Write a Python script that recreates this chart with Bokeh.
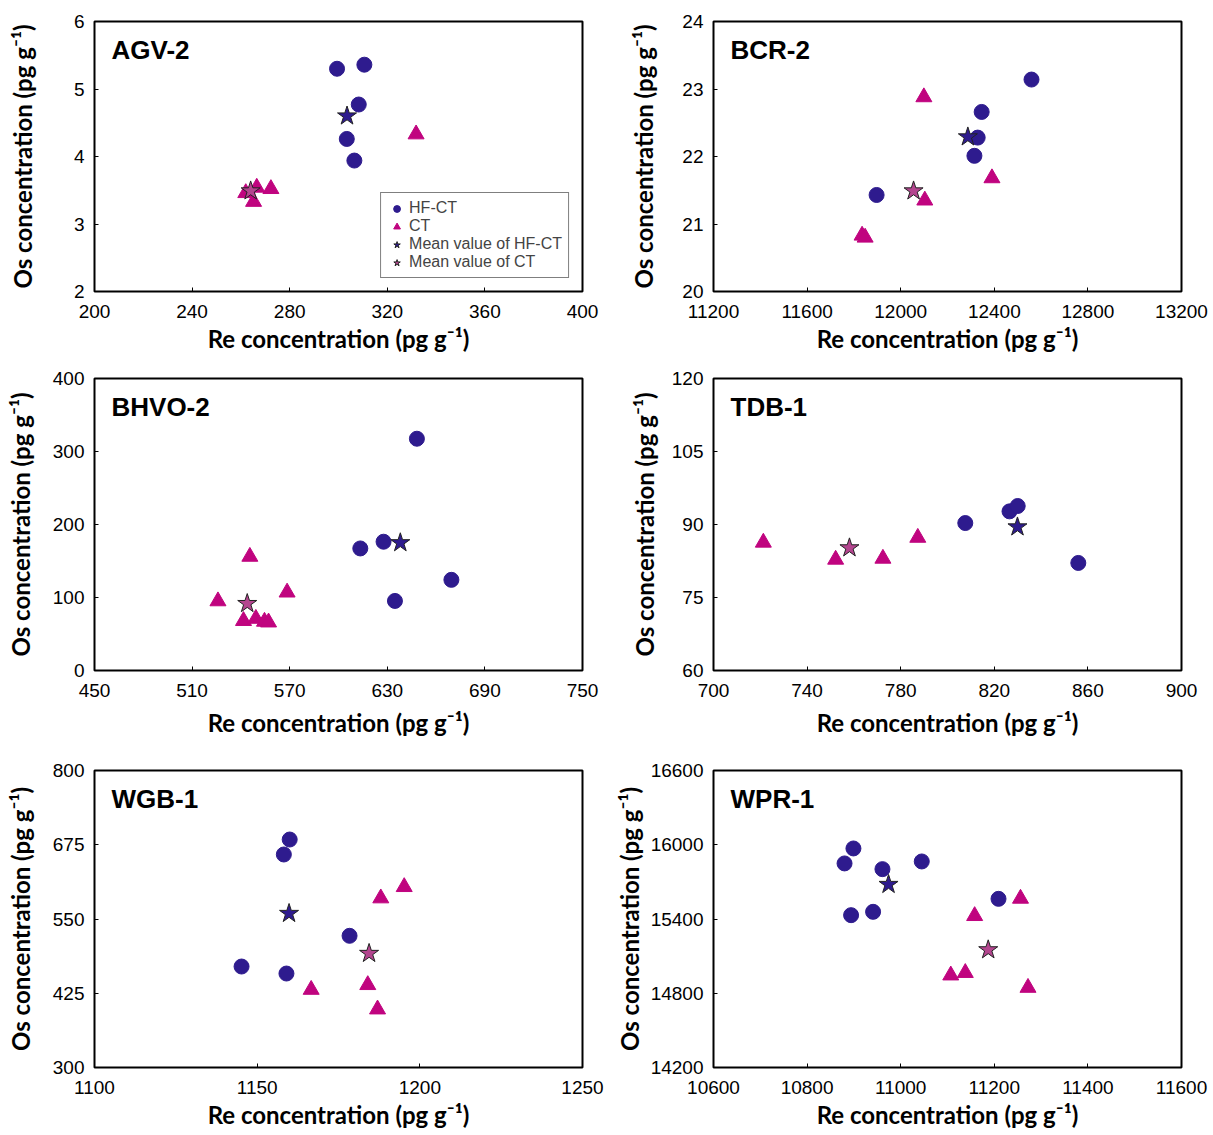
from bokeh.plotting import figure
from bokeh.models import Range1d, FixedTicker, Label, Legend, LegendItem
from bokeh.layouts import column, row
from bokeh.embed import file_html
from bokeh.resources import INLINE

# ---------------- data ----------------
# AGV-2
agv_hf_re = [299.4, 310.6, 308.3, 303.4, 306.5]
agv_hf_os = [5.30, 5.36, 4.77, 4.26, 3.94]
agv_ct_re = [331.8, 272.3, 266.5, 262.0, 265.2]
agv_ct_os = [4.33, 3.52, 3.54, 3.46, 3.33]
agv_hfmean_re = [303.5]
agv_hfmean_os = [4.60]
agv_ctmean_re = [264.0]
agv_ctmean_os = [3.49]
agv_xticks = [200, 240, 280, 320, 360, 400]
agv_yticks = [2, 3, 4, 5, 6]

# BCR-2
bcr_hf_re = [12559, 12346, 12329, 12315, 11897]
bcr_hf_os = [23.14, 22.66, 22.28, 22.01, 21.43]
bcr_ct_re = [12099, 12390, 12103, 11835, 11848]
bcr_ct_os = [22.88, 21.68, 21.35, 20.83, 20.80]
bcr_hfmean_re = [12287]
bcr_hfmean_os = [22.29]
bcr_ctmean_re = [12055]
bcr_ctmean_os = [21.49]
bcr_xticks = [11200, 11600, 12000, 12400, 12800, 13200]
bcr_yticks = [20, 21, 22, 23, 24]

# BHVO-2
bhvo_hf_re = [648.2, 627.7, 613.4, 669.4, 634.7]
bhvo_hf_os = [317.5, 176.4, 167.2, 124.2, 95.3]
bhvo_ct_re = [545.5, 568.4, 525.9, 541.6, 549.2, 554.5, 557.0]
bhvo_ct_os = [156, 107, 95, 68, 71, 67, 66]
bhvo_hfmean_re = [638.0]
bhvo_hfmean_os = [175.0]
bhvo_ctmean_re = [543.9]
bhvo_ctmean_os = [91.7]
bhvo_xticks = [450, 510, 570, 630, 690, 750]
bhvo_yticks = [0, 100, 200, 300, 400]

# TDB-1
tdb_hf_re = [807.6, 826.5, 830.0, 855.9]
tdb_hf_os = [90.3, 92.7, 93.8, 82.1]
tdb_ct_re = [721.3, 752.2, 772.4, 787.3]
tdb_ct_os = [86.3, 82.8, 83.0, 87.3]
tdb_hfmean_re = [829.9]
tdb_hfmean_os = [89.5]
tdb_ctmean_re = [758.1]
tdb_ctmean_os = [85.2]
tdb_xticks = [700, 740, 780, 820, 860, 900]
tdb_yticks = [60, 75, 90, 105, 120]

# WGB-1
wgb_hf_re = [1160.0, 1158.2, 1178.4, 1145.2, 1159.0]
wgb_hf_os = [683.8, 658.6, 521.7, 470.0, 458.2]
wgb_ct_re = [1195.2, 1188.0, 1184.0, 1166.6, 1187.0]
wgb_ct_os = [604, 585, 439, 431, 398]
wgb_hfmean_re = [1159.8]
wgb_hfmean_os = [559.3]
wgb_ctmean_re = [1184.4]
wgb_ctmean_os = [492.0]
wgb_xticks = [1100, 1150, 1200, 1250]
wgb_yticks = [300, 425, 550, 675, 800]

# WPR-1
wpr_hf_re = [10899, 10880, 10961, 11045, 11209, 10894, 10941]
wpr_hf_os = [15970, 15849, 15803, 15865, 15563, 15431, 15458]
wpr_ct_re = [11256, 11158, 11107, 11138, 11272]
wpr_ct_os = [15565, 15425, 14945, 14965, 14845]
wpr_hfmean_re = [10974]
wpr_hfmean_os = [15679]
wpr_ctmean_re = [11187]
wpr_ctmean_os = [15151]
wpr_xticks = [10600, 10800, 11000, 11200, 11400, 11600]
wpr_yticks = [14200, 14800, 15400, 16000, 16600]

# ---------------- styling ----------------
HF_COLOR = "#2e1b8e"
CT_COLOR = "#c0047f"
HF_STAR = "#2e1b8e"
CT_STAR = "#b4458f"
TICK_FONT = "Liberation Sans"
LABEL_FONT = "Lato"


def make_panel(name, hf_re, hf_os, ct_re, ct_os, hfm_re, hfm_os, ctm_re, ctm_os,
               xticks, yticks, fw, fh, bl, br, bt, bb, ylab_standoff,
               xlab_standoff=3, legend=False):
    p = figure(frame_width=fw, frame_height=fh,
               min_border_left=bl, min_border_right=br,
               min_border_top=bt, min_border_bottom=bb,
               x_range=Range1d(xticks[0], xticks[-1]),
               y_range=Range1d(yticks[0], yticks[-1]),
               output_backend="svg", toolbar_location=None, tools="")
    p.xgrid.visible = False
    p.ygrid.visible = False
    p.outline_line_color = "black"
    p.outline_line_width = 2
    p.outline_line_alpha = 1.0
    p.background_fill_color = "white"
    p.border_fill_color = "white"

    for ax, ticks in ((p.xaxis[0], xticks), (p.yaxis[0], yticks)):
        ax.ticker = FixedTicker(ticks=ticks)
        ax.major_label_overrides = {t: str(t) for t in ticks}
        ax.minor_tick_line_color = None
        ax.major_tick_in = 4
        ax.major_tick_out = 0
        ax.major_tick_line_color = "black"
        ax.major_tick_line_width = 1
        ax.axis_line_color = None
        ax.major_label_text_font = TICK_FONT
        ax.major_label_text_font_size = "19px"
        ax.major_label_text_color = "black"
        ax.axis_label_text_font = LABEL_FONT
        ax.axis_label_text_font_style = "bold"
        ax.axis_label_text_font_size = "24px"
        ax.axis_label_text_color = "black"

    p.xaxis.axis_label = "Re concentration (pg g\u207b\u00b9)"
    p.yaxis.axis_label = "Os concentration (pg g\u207b\u00b9)"
    p.xaxis.major_label_standoff = 13
    p.xaxis.axis_label_standoff = xlab_standoff
    p.yaxis.major_label_standoff = 10
    p.yaxis.axis_label_standoff = ylab_standoff

    r_hf = p.scatter(hf_re, hf_os, marker="circle", size=15,
                     fill_color=HF_COLOR, line_color=HF_COLOR)
    r_ct = p.scatter(ct_re, ct_os, marker="triangle", size=16,
                     fill_color=CT_COLOR, line_color=CT_COLOR)
    r_hfm = p.scatter(hfm_re, hfm_os, marker="star", size=20,
                      fill_color=HF_STAR, line_color="#222222", line_width=1)
    r_ctm = p.scatter(ctm_re, ctm_os, marker="star", size=20,
                      fill_color=CT_STAR, line_color="#222222", line_width=1)

    p.add_layout(Label(x=17, y=fh - 13, x_units="screen", y_units="screen",
                       text=name, text_baseline="top", text_align="left",
                       text_font=TICK_FONT, text_font_style="bold",
                       text_font_size="26px", text_color="black"))

    if legend:
        leg = Legend(items=[
            LegendItem(label="HF-CT", renderers=[r_hf]),
            LegendItem(label="CT", renderers=[r_ct]),
            LegendItem(label="Mean value of HF-CT", renderers=[r_hfm]),
            LegendItem(label="Mean value of CT", renderers=[r_ctm]),
        ], location="bottom_right")
        leg.border_line_color = "black"
        leg.border_line_width = 1
        leg.background_fill_color = "white"
        leg.background_fill_alpha = 1.0
        leg.padding = 6
        leg.spacing = 0
        leg.margin = 13
        leg.glyph_height = 17
        leg.glyph_width = 19
        leg.label_height = 17
        leg.label_standoff = 3
        leg.label_text_font = TICK_FONT
        leg.label_text_font_size = "16px"
        leg.label_text_line_height = 1.0
        p.add_layout(leg)
    return p


LW, RW = 488, 468
L_BL, L_BR = 94, 27
R_BL, R_BR = 104, 28

p1 = make_panel("AGV-2", agv_hf_re, agv_hf_os, agv_ct_re, agv_ct_os,
                agv_hfmean_re, agv_hfmean_os, agv_ctmean_re, agv_ctmean_os,
                agv_xticks, agv_yticks, LW, 270, L_BL, L_BR, 21, 67, 34, legend=True)
p2 = make_panel("BCR-2", bcr_hf_re, bcr_hf_os, bcr_ct_re, bcr_ct_os,
                bcr_hfmean_re, bcr_hfmean_os, bcr_ctmean_re, bcr_ctmean_os,
                bcr_xticks, bcr_yticks, RW, 270, R_BL, R_BR, 21, 67, 21)
p3 = make_panel("BHVO-2", bhvo_hf_re, bhvo_hf_os, bhvo_ct_re, bhvo_ct_os,
                bhvo_hfmean_re, bhvo_hfmean_os, bhvo_ctmean_re, bhvo_ctmean_os,
                bhvo_xticks, bhvo_yticks, LW, 292, L_BL, L_BR, 20, 74, 15,
                xlab_standoff=8)
p4 = make_panel("TDB-1", tdb_hf_re, tdb_hf_os, tdb_ct_re, tdb_ct_os,
                tdb_hfmean_re, tdb_hfmean_os, tdb_ctmean_re, tdb_ctmean_os,
                tdb_xticks, tdb_yticks, RW, 292, R_BL, R_BR, 20, 74, 10,
                xlab_standoff=8)
p5 = make_panel("WGB-1", wgb_hf_re, wgb_hf_os, wgb_ct_re, wgb_ct_os,
                wgb_hfmean_re, wgb_hfmean_os, wgb_ctmean_re, wgb_ctmean_os,
                wgb_xticks, wgb_yticks, LW, 297, L_BL, L_BR, 26, 65, 15)
p6 = make_panel("WPR-1", wpr_hf_re, wpr_hf_os, wpr_ct_re, wpr_ct_os,
                wpr_hfmean_re, wpr_hfmean_os, wpr_ctmean_re, wpr_ctmean_os,
                wpr_xticks, wpr_yticks, RW, 297, R_BL, R_BR, 26, 65, 4)

layout = column(row(p1, p2, spacing=0), row(p3, p4, spacing=0),
                row(p5, p6, spacing=0), spacing=0)

open("out.html", "w").write(file_html(layout, INLINE))
